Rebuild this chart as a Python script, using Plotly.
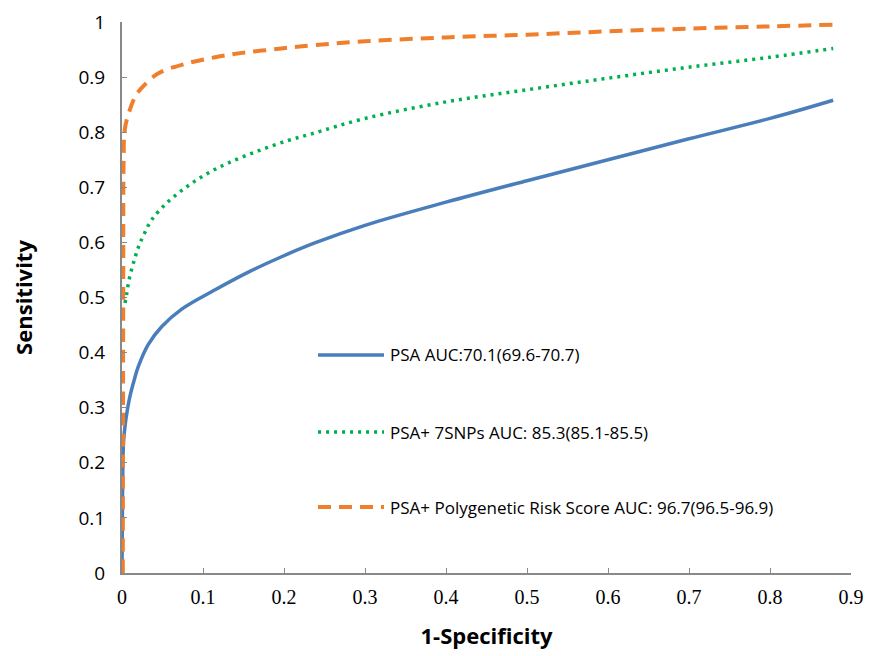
import plotly.graph_objects as go

# Data (1-Specificity, Sensitivity)
psa_x = [0, 0.0005, 0.001, 0.002, 0.004, 0.0065, 0.01, 0.015, 0.0202, 0.0325, 0.0489, 0.0737, 0.115, 0.156, 0.197, 0.238, 0.3, 0.4, 0.5, 0.6, 0.7, 0.8, 0.878]
psa_y = [0, 0.12, 0.19, 0.24, 0.27, 0.295, 0.322, 0.35, 0.375, 0.415, 0.447, 0.479, 0.514, 0.546, 0.574, 0.599, 0.631, 0.673, 0.712, 0.750, 0.788, 0.825, 0.858]

snp_x = [0.0037, 0.0058, 0.0078, 0.0099, 0.0128, 0.0152, 0.0185, 0.022, 0.027, 0.0366, 0.057, 0.08, 0.104, 0.131, 0.168, 0.205, 0.234, 0.3, 0.4, 0.5, 0.6, 0.7, 0.8, 0.878]
snp_y = [0.49, 0.507, 0.525, 0.54, 0.556, 0.568, 0.584, 0.598, 0.614, 0.641, 0.674, 0.701, 0.724, 0.744, 0.766, 0.785, 0.797, 0.825, 0.855, 0.877, 0.898, 0.918, 0.936, 0.952]

prs_x = [0.001, 0.0015, 0.002, 0.003, 0.0058, 0.016, 0.024, 0.045, 0.078, 0.115, 0.148, 0.185, 0.222, 0.3, 0.4, 0.5, 0.6, 0.7, 0.8, 0.878]
prs_y = [0, 0.5, 0.75, 0.8, 0.822, 0.864, 0.88, 0.907, 0.924, 0.936, 0.944, 0.95, 0.956, 0.965, 0.972, 0.977, 0.983, 0.988, 0.992, 0.995]

names = ["PSA AUC:70.1(69.6-70.7)",
         "PSA+ 7SNPs AUC: 85.3(85.1-85.5)",
         "PSA+ Polygenetic Risk Score AUC: 96.7(96.5-96.9)"]

x_ticks = [0, 0.1, 0.2, 0.3, 0.4, 0.5, 0.6, 0.7, 0.8, 0.9]
x_tick_text = ["0", "0.1", "0.2", "0.3", "0.4", "0.5", "0.6", "0.7", "0.8", "0.9"]
y_ticks = [0, 0.1, 0.2, 0.3, 0.4, 0.5, 0.6, 0.7, 0.8, 0.9, 1]
y_tick_text = ["0", "0.1", "0.2", "0.3", "0.4", "0.5", "0.6", "0.7", "0.8", "0.9", "1"]

colors = ["#4A7EBB", "#00B050", "#F07F2D"]
dashes = ["solid", "3px,5px", "13px,8px"]
widths = [3.5, 3.5, 4]

fig = go.Figure()
for xs, ys, nm, c, d, w in zip([psa_x, snp_x, prs_x], [psa_y, snp_y, prs_y], names, colors, dashes, widths):
    fig.add_trace(go.Scatter(x=xs, y=ys, mode="lines", name=nm, showlegend=False,
                             line=dict(color=c, width=w, dash=d, shape="spline", smoothing=1.0)))

# Manual legend (Excel-style long line samples)
W, H, L, T = 870, 656, 122, 22
pw, ph = W - L - 19, H - T - 83
legend_rows_px = [355, 432, 507]
for nm, c, d, w, py in zip(names, colors, dashes, widths, legend_rows_px):
    yp = (T + ph - py) / ph
    fig.add_shape(type="line", xref="paper", yref="paper",
                  x0=(318 - L) / pw, x1=(384 - L) / pw, y0=yp, y1=yp,
                  line=dict(color=c, width=w, dash=d))
    fig.add_annotation(xref="paper", yref="paper", x=(388 - L) / pw, y=yp,
                       xanchor="left", yanchor="middle", showarrow=False, text=nm,
                       font=dict(family="Open Sans", size=17, color="#000000"))

fig.update_layout(
    width=W, height=H,
    margin=dict(l=L, r=19, t=T, b=83),
    paper_bgcolor="white", plot_bgcolor="white",
    showlegend=False,
    xaxis=dict(range=[0, 0.9], tickvals=x_ticks, ticktext=x_tick_text, automargin=False,
               showgrid=False, zeroline=False, showline=True, linecolor="#898989", linewidth=2,
               ticks="inside", ticklen=5, tickcolor="#898989", tickwidth=1,
               ticklabelstandoff=5,
               tickfont=dict(family="Liberation Serif", size=20, color="#000000"),
               title=dict(text="<b>1-Specificity</b>", font=dict(family="Open Sans", size=22, color="#000000"), standoff=22)),
    yaxis=dict(range=[0, 1], tickvals=y_ticks, ticktext=y_tick_text, automargin=False,
               showgrid=False, zeroline=False, showline=True, linecolor="#898989", linewidth=2,
               ticks="inside", ticklen=5, tickcolor="#898989", tickwidth=1,
               ticklabelstandoff=11,
               tickfont=dict(family="Open Sans", size=19, color="#000000"),
               title=dict(text="<b>Sensitivity</b>", font=dict(family="Open Sans", size=22, color="#000000"), standoff=40)),
)

fig.write_html("out.html")
